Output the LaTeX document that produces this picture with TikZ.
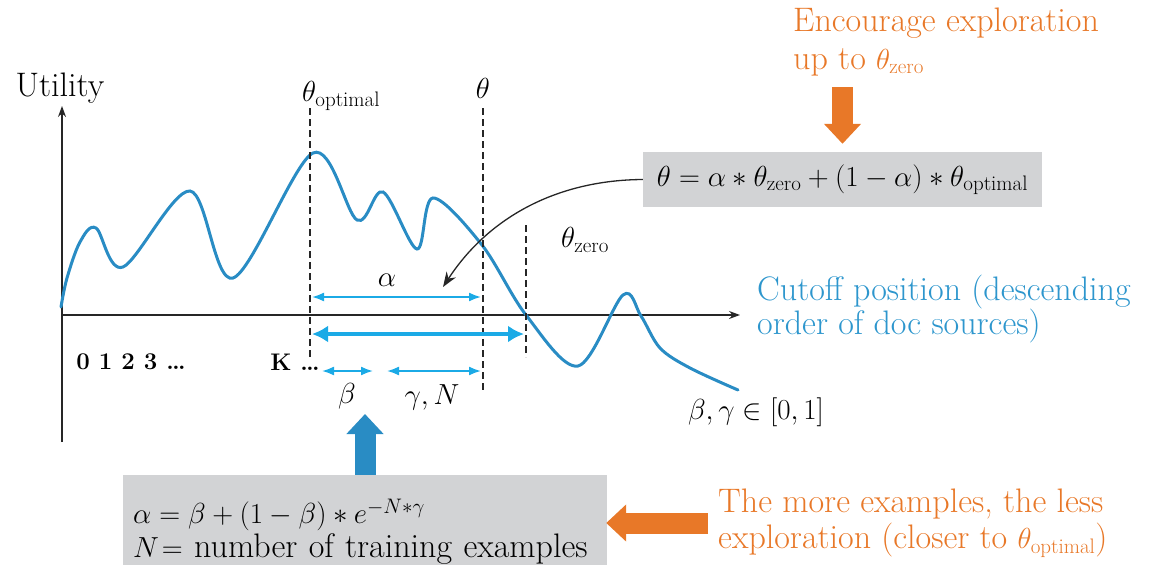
\RequirePackage{fix-cm}
\documentclass[tikz,border=0pt]{standalone}
\usepackage{amsmath,amssymb}
\usepackage{tikz}
\usetikzlibrary{arrows.meta,positioning,calc}
\usepackage{xcolor}
\definecolor{curveblue}{RGB}{41,140,196}
\definecolor{dimcyan}{RGB}{27,170,230}
\definecolor{cutblue}{RGB}{45,150,205}
\definecolor{hintorange}{RGB}{232,120,40}
\definecolor{boxgray}{RGB}{210,211,213}
\DeclareMathSizes{34}{29}{21}{15}
\newcommand{\bigfont}{\fontsize{34}{38}\selectfont}

\begin{document}
\begin{tikzpicture}[x=1pt,y=-1pt,
  lbl/.style={font=\bigfont,inner sep=0pt},
  hint/.style={lbl,align=left,text=hintorange},
  formbox/.style={lbl,fill=boxgray,inner sep=10pt},
  cutline/.style={black!85,line width=1.2pt,dash pattern=on 7pt off 4pt},
  axisline/.style={black!85,line width=1.2pt,-{Stealth[length=11pt,width=8pt]}},
  dimthin/.style={dimcyan,line width=1.8pt,{Latex[length=12pt,width=9pt]}-{Latex[length=12pt,width=9pt]}},
  dimthick/.style={dimcyan,line width=4pt,{Latex[length=16pt,width=17pt]}-{Latex[length=16pt,width=17pt]}},
  fatarrow/.style={line width=21pt,-{Triangle[length=20pt,width=36pt]}}]
\useasboundingbox (0,0) rectangle (1152,565);

\coordinate (o) at (62,315);
\draw[axisline] (62,442) -- (62,106);
\draw[axisline] (o) -- (740,315);
\node[lbl] (util) at (60,88) {Utility};

\draw[curveblue,line width=3pt,line cap=round] plot[smooth,tension=0.55] coordinates {
  (61,307) (67,278) (80,242) (96,228) (123,267) (190,191) (233,278)
  (313,153) (357,220) (383,192) (417,249) (433,198)
  (482,245) (526,315) (578,366) (623,295) (641,316) (660,348) (690,368) (738,390)};

\draw[cutline] (310,108) -- (310,358);
\draw[cutline] (483,108) -- (483,392);
\draw[cutline] (526,225) -- (526,357);
\node[lbl,anchor=west] (topt) at (302,96) {$\theta_{\text{optimal}}$};
\node[lbl] (tcur) at (483,88) {$\theta$};
\node[lbl] (tzero) at (585,240) {$\theta_{\text{zero}}$};

\draw[dimthin] (312,297) -- (481,297);
\draw[dimthick] (312,334) -- (524,334);
\draw[dimthin] (322,371) -- (373,371);
\draw[dimthin] (387,371) -- (481,371);
\node[lbl] (alpha) at (387,280) {$\alpha$};
\node[lbl] (beta) at (347,396) {$\beta$};
\node[lbl] (gamma) at (432,397) {$\gamma, N$};
\node[lbl,font=\fontsize{24}{28}\selectfont\bfseries] (ticks) at (131,362) {0 1 2 3 \dots};
\node[lbl,font=\fontsize{24}{28}\selectfont\bfseries] (kdots) at (295,362) {K \dots};
\node[lbl] (range) at (756,412) {$\beta, \gamma \in [0, 1]$};

\node[lbl,align=left,text=cutblue,font=\fontsize{34}{32}\selectfont,anchor=west] (cutoff) at (757,309)
  {Cutoff position (descending\\order of doc sources)};

\node[formbox,minimum width=399pt,minimum height=55pt] (fbox) at (842.5,179.5)
  {$\theta = \alpha * \theta_{\text{zero}} + (1 - \alpha) * \theta_{\text{optimal}}$};
\node[hint,font=\fontsize{34}{38}\selectfont,anchor=west] (explore) at (793,42)
  {Encourage exploration\\up to $\theta_{\text{zero}}$};
\coordinate (downtail) at (842.5,87);
\draw[fatarrow,hintorange] (downtail) -- ([yshift=8pt]fbox.north);

\coordinate (alphatip) at (443,287);
\draw[black!85,line width=1.3pt,-{Stealth[length=15pt,width=11pt]}] (fbox.west)
  .. controls (560,180) and (490,215) .. (alphatip);

\node[formbox,align=left,text width=464pt,minimum height=114pt,inner sep=10pt,
  font=\fontsize{34}{35}\selectfont] (abox) at (365,532)
  {$\alpha = \beta + (1 - \beta) * e^{-N * \gamma}$\\[-1pt]\mbox{$N\!=$ number of training examples}};
\coordinate (uptip) at (365,414);
\draw[fatarrow,curveblue] (abox.north) -- (uptip);

\node[hint,font=\fontsize{34}{36}\selectfont,anchor=west] (less) at (718,523)
  {The more examples, the less\\exploration (closer to $\theta_{\text{optimal}}$)};
\coordinate (lefttail) at (708,523);
\draw[fatarrow,hintorange] (lefttail) -- ([xshift=-1pt]lefttail -| abox.east);
\end{tikzpicture}
\end{document}
